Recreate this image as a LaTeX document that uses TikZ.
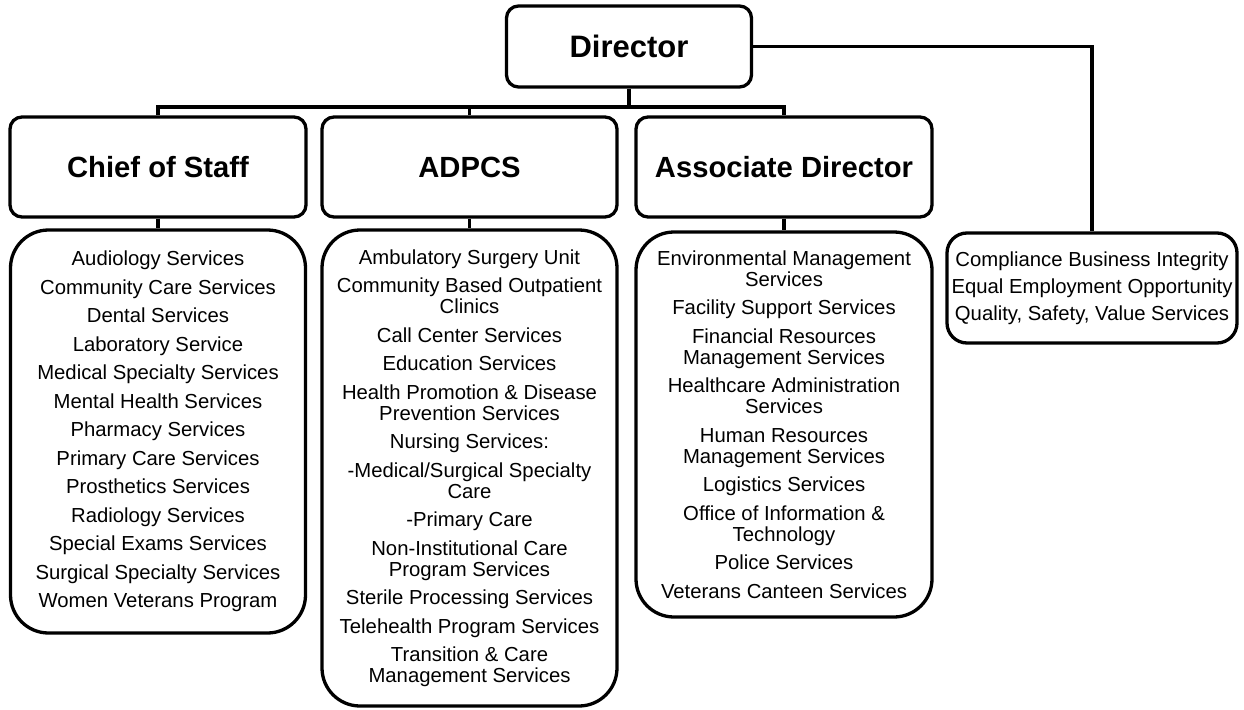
\documentclass[tikz,border=0pt]{standalone}
\usepackage{fontspec}
\setmainfont{Liberation Sans}
\begin{document}
\begin{tikzpicture}[x=1pt,y=-1pt,
  base/.style={draw, line width=3.3pt, inner sep=0pt, align=center, text=black},
  topbox/.style={base, rounded corners=12pt, minimum width=245pt, minimum height=81pt, font=\fontsize{31}{34}\selectfont\bfseries},
  headbox/.style={base, rounded corners=12pt, minimum width=296pt, minimum height=100pt, font=\fontsize{29.2}{32}\selectfont\bfseries},
  listbox/.style={base, rounded corners=38pt, minimum width=295pt, font=\fontsize{20.3}{21}\selectfont},
  sidebox/.style={base, rounded corners=20pt, minimum width=290pt, minimum height=110pt, font=\fontsize{20.3}{27}\selectfont},
  conn/.style={line width=3.3pt, line join=miter}]
\useasboundingbox (0,0) rectangle (1244,709);

\node[topbox] (dir) at (629,46.5) {Director};

\node[headbox] (cos) at (158,167) {Chief of Staff};
\node[headbox, minimum width=295pt] (adp) at (469.5,167) {ADPCS};
\node[headbox] (ad) at (784,167) {Associate Director};

\node[listbox, minimum height=403pt] (cosl) at (158,431.5) {%
Audiology Services\\[7.5pt]
Community Care Services\\[7.5pt]
Dental Services\\[7.5pt]
Laboratory Service\\[7.5pt]
Medical Specialty Services\\[7.5pt]
Mental Health Services\\[7.5pt]
Pharmacy Services\\[7.5pt]
Primary Care Services\\[7.5pt]
Prosthetics Services\\[7.5pt]
Radiology Services\\[7.5pt]
Special Exams Services\\[7.5pt]
Surgical Specialty Services\\[7.5pt]
Women Veterans Program};

\node[listbox, minimum height=476pt] (adpl) at (469.5,468) {%
Ambulatory Surgery Unit\\[7.5pt]
Community Based Outpatient\\
Clinics\\[7.5pt]
Call Center Services\\[7.5pt]
Education Services\\[7.5pt]
Health Promotion \& Disease\\
Prevention Services\\[7.5pt]
Nursing Services:\\[7.5pt]
-Medical/Surgical Specialty\\
Care\\[7.5pt]
-Primary Care\\[7.5pt]
Non-Institutional Care\\
Program Services\\[7.5pt]
Sterile Processing Services\\[7.5pt]
Telehealth Program Services\\[7.5pt]
Transition \& Care\\
Management Services};

\node[listbox, minimum height=385pt, minimum width=296pt] (adl) at (784,424.5) {%
Environmental Management\\
Services\\[7.5pt]
Facility Support Services\\[7.5pt]
Financial Resources\\
Management Services\\[7.5pt]
Healthcare Administration\\
Services\\[7.5pt]
Human Resources\\
Management Services\\[7.5pt]
Logistics Services\\[7.5pt]
Office of Information \&\\
Technology\\[7.5pt]
Police Services\\[7.5pt]
Veterans Canteen Services};

\node[sidebox] (comp) at (1092,288) {%
Compliance Business Integrity\\
Equal Employment Opportunity\\
Quality, Safety, Value Services};

\coordinate (bus) at (629,107);
\draw[conn] (dir.south) -- (bus);
\draw[conn] (cos.north) -- (cos.north |- bus) -- (ad.north |- bus) -- (ad.north);
\draw[conn] (adp.north) -- (adp.north |- bus);
\draw[conn] (dir.east) -| (comp.north);
\draw[conn] (cos.south) -- (cosl.north);
\draw[conn] (adp.south) -- (adpl.north);
\draw[conn] (ad.south) -- (adl.north);
\end{tikzpicture}
\end{document}
